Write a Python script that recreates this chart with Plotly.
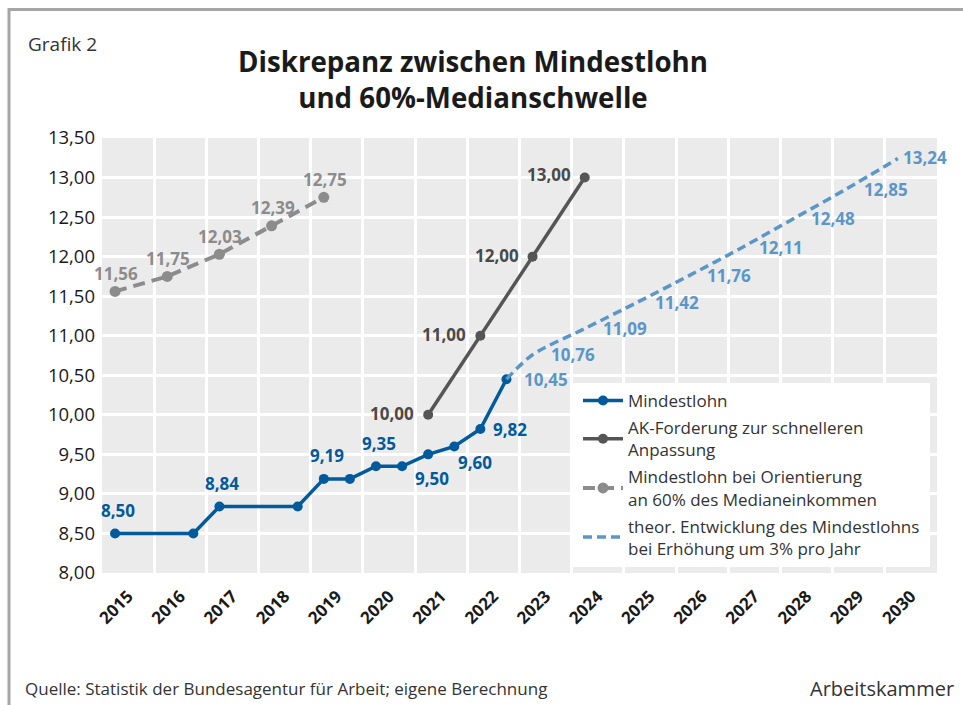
import plotly.graph_objects as go

# ---------------- data ----------------
year_labels = [str(y) for y in range(2015, 2031)]
y_ticks = [8.0, 8.5, 9.0, 9.5, 10.0, 10.5, 11.0, 11.5, 12.0, 12.5, 13.0, 13.5]

mindestlohn_periods = ["2015-H1", "2016-H2", "2017-H1", "2018-H2", "2019-H1", "2019-H2",
                       "2020-H1", "2020-H2", "2021-H1", "2021-H2", "2022-H1", "2022-H2"]
mindestlohn_values = [8.50, 8.50, 8.84, 8.84, 9.19, 9.19, 9.35, 9.35, 9.50, 9.60, 9.82, 10.45]

ak_periods = ["2021-H1", "2022-H1", "2023-H1", "2024-H1"]
ak_values = [10.00, 11.00, 12.00, 13.00]

median_periods = ["2015-H1", "2016-H1", "2017-H1", "2018-H1", "2019-H1"]
median_values = [11.56, 11.75, 12.03, 12.39, 12.75]

theor_periods = ["2022-H2", "2023-H1", "2024-H1", "2025-H1", "2026-H1",
                 "2027-H1", "2028-H1", "2029-H1", "2030-H1"]
theor_values = [10.45, 10.76, 11.09, 11.42, 11.76, 12.11, 12.48, 12.85, 13.24]

names = ["Mindestlohn",
         "AK-Forderung zur schnelleren<br>Anpassung",
         "Mindestlohn bei Orientierung<br>an 60% des Medianeinkommen",
         "theor. Entwicklung des Mindestlohns<br>bei Erhöhung um 3% pro Jahr"]

# label placement (style): None = no label
mindestlohn_label_pos = ["above", None, "above", None, "above", None,
                         "above", None, "below", "below right", "right", None]
ak_label_pos = ["left", "left", "left", "left up"]
median_label_pos = ["above small"] * 5
theor_label_pos = ["right far"] * 8 + ["right near"]


def period_to_x(p):
    y, h = p.split("-H")
    return int(y) + (0.25 if h == "1" else 0.75)


def fmt(v):
    return f"{v:.2f}".replace(".", ",")


# ---------------- layout geometry ----------------
W, H = 963, 705
L, R, T, B = 102, 937, 138, 573
PW, PH = R - L, B - T


def px(x):
    return (x - L) / PW


def py(y):
    return (B - y) / PH


FONT = "Open Sans"
C_BLUE = "#005a9c"
C_LBLUE = "#5b96c8"
C_DARK = "#555555"
C_DARK_TXT = "#4a4a4a"
C_GRAY = "#8c8c8c"

LABEL_STYLE = {
    "above": dict(xanchor="center", yanchor="middle", xshift=3, yshift=23),
    "above small": dict(xanchor="center", yanchor="middle", xshift=1, yshift=18),
    "below": dict(xanchor="center", yanchor="middle", xshift=4, yshift=-24),
    "below right": dict(xanchor="center", yanchor="middle", xshift=21, yshift=-16),
    "right": dict(xanchor="left", yanchor="middle", xshift=11, yshift=0),
    "right far": dict(xanchor="left", yanchor="middle", xshift=16, yshift=0),
    "right near": dict(xanchor="left", yanchor="middle", xshift=3, yshift=1),
    "left": dict(xanchor="right", yanchor="middle", xshift=-12, yshift=1),
    "left up": dict(xanchor="right", yanchor="middle", xshift=-12, yshift=3),
}

fig = go.Figure()

ml_x = [period_to_x(p) for p in mindestlohn_periods]
ak_x = [period_to_x(p) for p in ak_periods]
md_x = [period_to_x(p) for p in median_periods]
th_x = [period_to_x(p) for p in theor_periods]

fig.add_trace(go.Scatter(
    x=ml_x, y=mindestlohn_values, mode="lines+markers", name=names[0], legendrank=1,
    legendgroup="g1",
    line=dict(color=C_BLUE, width=3.5), marker=dict(size=10, color=C_BLUE),
))
fig.add_trace(go.Scatter(
    x=ak_x, y=ak_values, mode="lines+markers", name=names[1], legendrank=2,
    legendgroup="g2",
    line=dict(color=C_DARK, width=3.5), marker=dict(size=10, color=C_DARK),
))
fig.add_trace(go.Scatter(
    x=md_x, y=median_values, mode="lines+markers", name=names[2], legendrank=3,
    legendgroup="g3",
    line=dict(color=C_GRAY, width=4, dash="12px,7px"), marker=dict(size=11, color=C_GRAY),
))
fig.add_trace(go.Scatter(
    x=th_x, y=theor_values, mode="lines", name=names[3], legendrank=4,
    legendgroup="g4",
    line=dict(color=C_LBLUE, width=3.5, dash="9px,5px", shape="spline", smoothing=0.8),
))

annotations = []


def add_labels(xs, ys, positions, color):
    for x, y, pos in zip(xs, ys, positions):
        if pos is None:
            continue
        annotations.append(dict(
            x=x, y=y, xref="x", yref="y", text=f"<b>{fmt(y)}</b>", showarrow=False,
            font=dict(family=FONT, size=17, color=color), **LABEL_STYLE[pos]))


add_labels(ml_x, mindestlohn_values, mindestlohn_label_pos, C_BLUE)
add_labels(ak_x, ak_values, ak_label_pos, C_DARK_TXT)
add_labels(md_x, median_values, median_label_pos, C_GRAY)
add_labels(th_x, theor_values, theor_label_pos, C_LBLUE)

annotations += [
    dict(text="Grafik 2", xref="paper", yref="paper", x=px(26), y=py(29),
         xanchor="left", yanchor="top", showarrow=False,
         font=dict(family=FONT, size=19, color="#333333")),
    dict(text="<b>Diskrepanz zwischen Mindestlohn<br>und 60%-Medianschwelle</b>",
         xref="paper", yref="paper", x=px(473), y=py(40),
         xanchor="center", yanchor="top", showarrow=False,
         font=dict(family=FONT, size=27.7, color="#1a1a1a")),
    dict(text="Quelle: Statistik der Bundesagentur für Arbeit; eigene Berechnung",
         xref="paper", yref="paper", x=px(23), y=py(688),
         xanchor="left", yanchor="middle", showarrow=False,
         font=dict(family=FONT, size=17, color="#333333")),
    dict(text="Arbeitskammer",
         xref="paper", yref="paper", x=px(956), y=py(688),
         xanchor="right", yanchor="middle", showarrow=False,
         font=dict(family=FONT, size=20, color="#333333")),
]

first_year = int(year_labels[0])
last_year = int(year_labels[-1])

fig.update_layout(
    width=W, height=H,
    margin=dict(l=L, r=W - R, t=T, b=H - B, pad=0),
    paper_bgcolor="white", plot_bgcolor="#ebebeb",
    separators=",.",
    font=dict(family=FONT, size=17, color="#333333"),
    showlegend=True,
    legend=dict(
        x=px(578), y=py(383), xanchor="left", yanchor="top",
        bgcolor="white", borderwidth=0,
        font=dict(family=FONT, size=17, color="#333333"),
        itemwidth=40, tracegroupgap=2, traceorder="grouped",
    ),
    xaxis=dict(
        range=[first_year, last_year + 1],
        tickmode="array",
        tickvals=[int(y) + 0.5 for y in year_labels],
        ticktext=year_labels,
        tickangle=-45,
        tickfont=dict(family=FONT, size=17, color="#1a1a1a", weight="bold"),
        showgrid=False, zeroline=False, showline=False, ticks="",
        ticklabelstandoff=9,
        minor=dict(tickvals=list(range(first_year + 1, last_year + 1)),
                   showgrid=True, gridcolor="white", gridwidth=3, ticks=""),
        fixedrange=True,
    ),
    yaxis=dict(
        range=[y_ticks[0], y_ticks[-1]],
        tickmode="array", tickvals=y_ticks,
        tickformat=".2f",
        tickfont=dict(family=FONT, size=18.5, color="#1a1a1a"),
        showgrid=True, gridcolor="white", gridwidth=3,
        zeroline=False, showline=False, ticks="", ticklabelstandoff=6,
        fixedrange=True,
    ),
    shapes=[
        dict(type="rect", xref="paper", yref="paper",
             x0=px(570), x1=px(930), y0=py(567), y1=py(383),
             fillcolor="white", line=dict(width=0), layer="between"),
        dict(type="path", xref="paper", yref="paper",
             path=f"M {px(9)},{py(710)} L {px(9)},{py(9.5)} L {px(965)},{py(9.5)}",
             line=dict(color="#a6a6a6", width=3)),
    ],
    annotations=annotations,
)

fig.write_html("out.html", config={"displayModeBar": False},
               post_script="document.body.style.margin='0px';")
